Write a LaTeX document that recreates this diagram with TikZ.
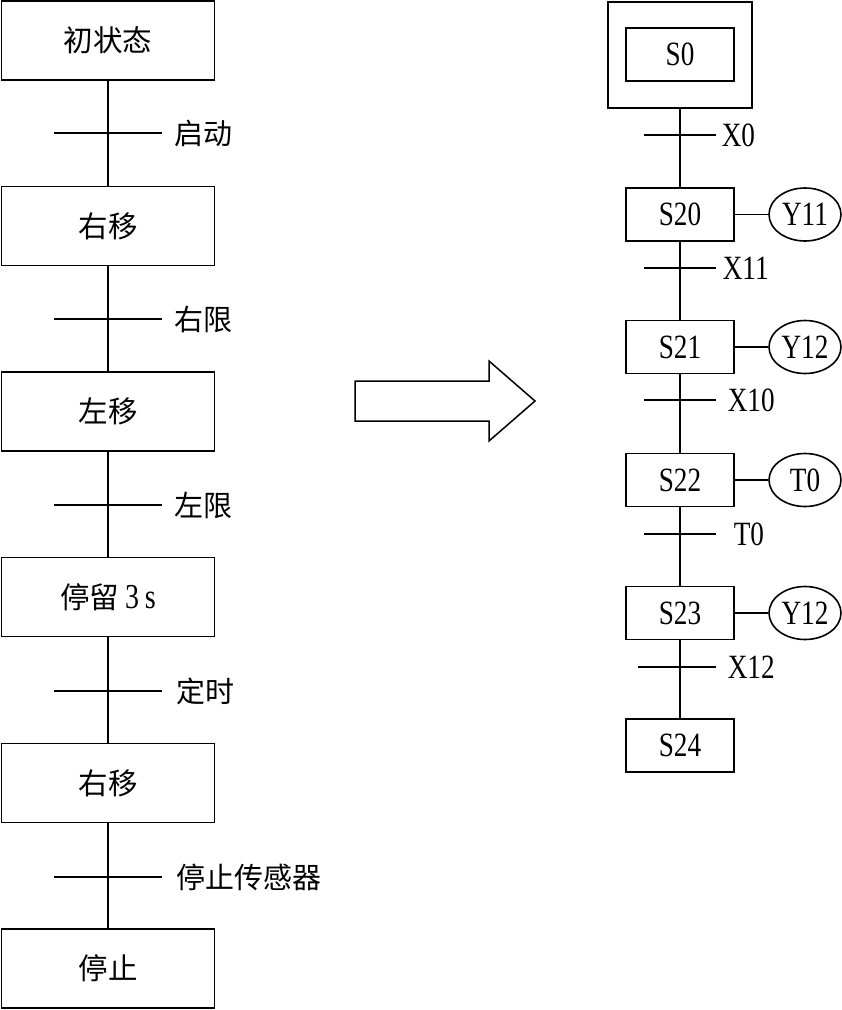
\documentclass[tikz,border=0pt]{standalone}
\usepackage{fontspec}
\setmainfont[FakeStretch=0.8]{Liberation Serif}
\newfontfamily\cjk{Noto Sans CJK SC}
\usetikzlibrary{shapes.geometric}
\begin{document}
\begin{tikzpicture}[x=1pt,y=-1pt,line width=1.6pt,
  lbox/.style={draw,rectangle,minimum width=213pt,minimum height=79pt,inner sep=0pt,font=\cjk\fontsize{29.5}{32}\selectfont},
  sbox/.style={draw,rectangle,minimum width=108pt,minimum height=53pt,inner sep=0pt,font=\fontsize{34}{36}\selectfont},
  outbox/.style={draw,rectangle,minimum width=144pt,minimum height=106pt,inner sep=0pt},
  outel/.style={draw,ellipse,minimum width=72pt,minimum height=53pt,inner sep=0pt,font=\fontsize{34}{36}\selectfont},
  clabel/.style={anchor=west,inner sep=0pt,font=\cjk\fontsize{29}{32}\selectfont},
  slabel/.style={anchor=west,inner sep=0pt,font=\fontsize{34}{36}\selectfont}]
\useasboundingbox (0,0) rectangle (842,1010);
% ---------- left chart ----------
\node[lbox] (L1) at (108,40.5) {初状态};
\node[lbox] (L2) at (108,226) {右移};
\node[lbox] (L3) at (108,411.5) {左移};
\node[lbox] (L4) at (108,597) {停留\hspace{6pt}{\rmfamily\fontsize{35}{36}\selectfont 3\,s}};
\node[lbox] (L5) at (108,783) {右移};
\node[lbox] (L6) at (108,968.5) {停止};
\foreach \a/\b in {L1/L2,L2/L3,L3/L4,L4/L5,L5/L6}{\draw (\a.south) -- (\b.north);}
\foreach \n/\y in {1/133,2/319,3/505,4/691,5/877}{
  \coordinate (lt\n) at (108,\y);
  \draw[line width=1.3pt] ([xshift=-54pt]lt\n) -- ([xshift=54pt]lt\n);
}
\node[clabel] (lc1) at (174,133) {启动};
\node[clabel] (lc2) at (174,319) {右限};
\node[clabel] (lc3) at (174,505) {左限};
\node[clabel] (lc4) at (176,691) {定时};
\node[clabel] (lc5) at (176,877) {停止传感器};
% ---------- block arrow ----------
\draw[line width=1.5pt,line join=miter] (355,381) -- (489,381) -- (489,361) -- (535,401) -- (489,441) -- (489,421) -- (355,421) -- cycle;
% ---------- right chart ----------
\node[outbox] (S0o) at (680,55) {};
\node[sbox] (S0) at (680,54.5) {S0};
\node[sbox] (S20) at (680,214.5) {S20};
\node[sbox] (S21) at (680,347) {S21};
\node[sbox] (S22) at (680,480) {S22};
\node[sbox] (S23) at (680,613) {S23};
\node[sbox] (S24) at (680,745.5) {S24};
\foreach \a/\b in {S0o/S20,S20/S21,S21/S22,S22/S23,S23/S24}{\draw (\a.south) -- (\b.north);}
\foreach \n/\y/\l in {1/135/36,2/268/36,3/400/36,4/534/36,5/667/42}{
  \coordinate (rt\n) at (680,\y);
  \draw[line width=1.3pt] ([xshift=-\l pt]rt\n) -- ([xshift=36pt]rt\n);
}
\node[slabel] (rl1) at (721,135) {X0};
\node[slabel] (rl2) at (722,268) {X11};
\node[slabel] (rl3) at (727,400) {X10};
\node[slabel] (rl4) at (733,534) {T0};
\node[slabel] (rl5) at (727,667) {X12};
\node[outel] (E1) at (805,214.5) {Y11};
\node[outel] (E2) at (805,347) {Y12};
\node[outel] (E3) at (805,480) {T0};
\node[outel] (E4) at (805,613) {Y12};
\draw (S20.east) -- (E1.west);
\draw (S21.east) -- (E2.west);
\draw (S22.east) -- (E3.west);
\draw (S23.east) -- (E4.west);
\end{tikzpicture}
\end{document}
